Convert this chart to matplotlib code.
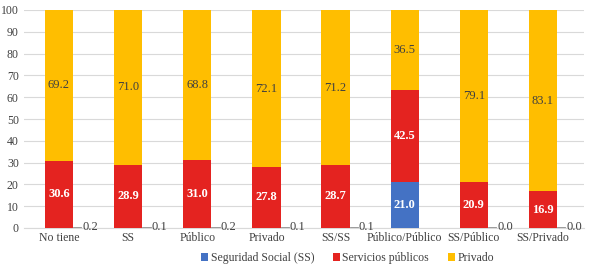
import numpy as np
import matplotlib.pyplot as plt

categories = ["No tiene", "SS", "Público", "Privado", "SS/SS",
              "Público/Público", "SS/Público", "SS/Privado"]
seguridad = [0.2, 0.1, 0.2, 0.1, 0.1, 21.0, 0.0, 0.0]
servicios = [30.6, 28.9, 31.0, 27.8, 28.7, 42.5, 20.9, 16.9]
privado = [69.2, 71.0, 68.8, 72.1, 71.2, 36.5, 79.1, 83.1]

c_ss = "#4472C4"
c_pub = "#E42320"
c_priv = "#FFBE00"

plt.rcParams["font.family"] = ["Liberation Serif", "DejaVu Serif"]

fig = plt.figure(figsize=(5.89, 2.68), dpi=100)
unit = 484 / 7
ax = fig.add_axes([(59 - 0.5 * unit) / 589, 1 - 228 / 268,
                   8.1 * unit / 589, 218 / 268])

x = np.arange(len(categories))
w = 0.41
ss = np.array(seguridad)
sp = np.array(servicios)
pr = np.array(privado)

ax.bar(x, ss, w, color=c_ss, label="Seguridad Social (SS)", zorder=3)
ax.bar(x, sp, w, bottom=ss, color=c_pub, label="Servicios públicos", zorder=3)
ax.bar(x, pr, w, bottom=ss + sp, color=c_priv, label="Privado", zorder=3)

for i in range(len(x)):
    if ss[i] > 5:
        ax.text(x[i], ss[i] / 2, f"{ss[i]:.1f}", ha="center", va="center",
                color="white", fontsize=9, fontweight="bold", zorder=4)
    else:
        # tiny values: label outside with a short leader line
        ax.plot([x[i] + w / 2, x[i] + w / 2 + 0.12], [0.4, 0.4],
                color="#8c8c8c", lw=0.6, zorder=4)
        ax.text(x[i] + w / 2 + 0.13, 0.4, f"{ss[i]:.1f}", ha="left",
                va="center", color="#404040", fontsize=9, zorder=4)
    ax.text(x[i], ss[i] + sp[i] / 2, f"{sp[i]:.1f}", ha="center", va="center",
            color="white", fontsize=9, fontweight="bold", zorder=4)
    ax.text(x[i], ss[i] + sp[i] + pr[i] / 2, f"{pr[i]:.1f}", ha="center",
            va="center", color="#404040", fontsize=9, zorder=4)

ax.set_ylim(0, 100)
ax.set_xlim(-0.5, len(x) - 0.4)
ax.set_yticks(range(0, 101, 10))
ax.set_xticks(x)
ax.set_xticklabels(categories)
ax.tick_params(axis="both", length=0, labelsize=8.5, colors="#404040")
ax.tick_params(axis="y", pad=4)
ax.tick_params(axis="x", pad=3)
ax.grid(axis="y", color="#d9d9d9", lw=0.8, zorder=0)
for s in ["top", "right", "left"]:
    ax.spines[s].set_visible(False)
ax.spines["bottom"].set_color("#d9d9d9")

fig.legend(loc="center", bbox_to_anchor=(0.59, 1 - 258 / 268), ncol=3,
           frameon=False, prop={"family": "Liberation Serif", "size": 8.5},
           handlelength=0.6, handleheight=0.6, handletextpad=0.2,
           columnspacing=1.6, labelcolor="#404040",
           borderaxespad=0, borderpad=0)

fig.savefig("out.png", dpi=100)
